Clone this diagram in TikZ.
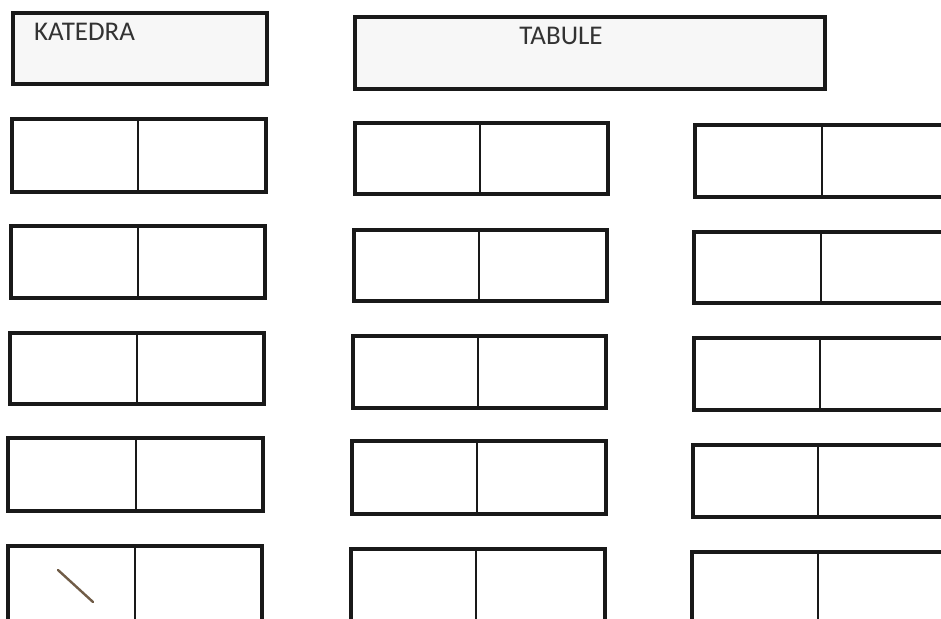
\documentclass[tikz,border=0pt]{standalone}
\usepackage{fontspec}
\setmainfont{Carlito}
\begin{document}
\begin{tikzpicture}[x=1pt,y=-1pt,
  frame/.style={draw=black!90,line width=3.2pt,fill=black!3},
  desk/.style={draw=black!90,line width=3.1pt},
  split/.style={draw=black!90,line width=2.4pt},
  label/.style={inner sep=0pt,text=black!80,font=\fontsize{27}{32}\selectfont}]
\useasboundingbox (0,0) rectangle (941,618);
\clip (0,0) rectangle (941,618);
\fill[white] (0,0) rectangle (941,618);
% front
\draw[frame] (13,13) rectangle (267,84);
\node[label,anchor=west] (katedra) at (34,32) {KATEDRA};
\draw[frame] (355,17) rectangle (825,89);
\node[label] (tabule) at (561,36) {TABULE};
% desks: L, S, R, top, bottom
\foreach \L/\S/\R/\T/\B in {
  12/138/266/119/192, 11/138/265/226/298, 10/137/264/333/404, 8/136/263/438/511, 8/135/262/546/630,
  355/480/608/123/194, 354/479/607/230/301, 353/478/606/336/408, 352/477/606/441/514, 351/476/605/549/630,
  695/822/960/125/197, 694/821/960/232/303, 694/820/960/338/410, 693/818/960/445/517, 692/818/960/552/630}{
  \draw[desk] (\L,\T) rectangle (\R,\B);
  \draw[split] (\S,\T) -- (\S,\B);
}
% pencil mark
\draw[line width=2.4pt,line cap=round,color=brown!40!black!80] (58,570) -- (93,602);
\end{tikzpicture}
\end{document}
